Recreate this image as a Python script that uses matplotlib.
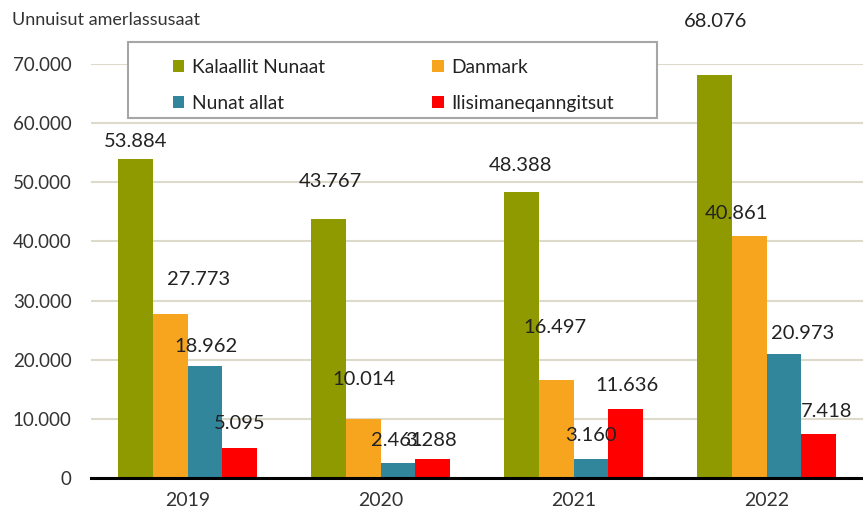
import numpy as np
import matplotlib
matplotlib.use("Agg")
import matplotlib.pyplot as plt
from matplotlib.patches import Rectangle

plt.rcParams['font.family'] = ['Lato', 'DejaVu Sans']

years = ["2019", "2020", "2021", "2022"]
series = ["Kalaallit Nunaat", "Danmark", "Nunat allat", "Ilisimaneqanngitsut"]
kalaallit = [53884, 43767, 48388, 68076]
danmark = [27773, 10014, 16497, 40861]
nunat_allat = [18962, 2461, 3160, 20973]
ilisimaneq = [5095, 3288, 11636, 7418]
colors = ["#8E9A00", "#F7A51F", "#31869B", "#FF0000"]

# label offsets in pixels (dx, dy above bar top) - mimic Excel's placement
lbl_off = [
    [(0, 18), (2, 38), (-1, 26), (1, 54)],
    [(28, 34), (1, 39), (-1, 53), (-13, 23)],
    [(1, 19), (-1, 23), (0, 24), (19, 20)],
    [(0, 24), (-2, 18), (1, 24), (8, 23)],
]

def fmt(v):
    return f"{v:,}".replace(",", ".")

fig = plt.figure(figsize=(8.63, 5.16), dpi=100)
ax = fig.add_axes([91/863, 1-478/516, 1-91/863, (478-64)/516])

x = np.arange(len(years))
w = 0.18
data = [kalaallit, danmark, nunat_allat, ilisimaneq]
handles = []
for i, (vals, name) in enumerate(zip(data, series)):
    bars = ax.bar(x + (i-1.5)*w, vals, w, color=colors[i], label=name, zorder=2)
    handles.append(bars)
    for j, b in enumerate(bars):
        dx, dy = lbl_off[i][j]
        ax.annotate(fmt(vals[j]), (b.get_x()+b.get_width()/2, b.get_height()),
                    xytext=(dx, dy), textcoords='offset pixels',
                    ha='center', va='center', fontsize=14.5, color='#222222', zorder=3)

ax.set_xlim(-0.5, 3.5)
ax.set_ylim(0, 70000)
ax.set_yticks(range(0, 70001, 10000))
ax.set_yticklabels([fmt(v) for v in range(0, 70001, 10000)], fontsize=13.5, color='#333333')
ax.set_xticks(x)
ax.set_xticklabels(years, fontsize=14, color='#333333')
ax.tick_params(length=0, axis='y', pad=14)
ax.tick_params(length=0, axis='x', pad=10)
ax.grid(axis='y', color='#DDDACB', linewidth=1.5, zorder=0)
for s in ['top', 'right', 'left']:
    ax.spines[s].set_visible(False)
ax.spines['bottom'].set_linewidth(2.2)
ax.spines['bottom'].set_color('black')
ax.spines['bottom'].set_zorder(4)

fig.text(12/863, 1-20/516, "Unnuisut amerlassusaat", fontsize=13, color='#333333', va='center')

fig.patches.append(Rectangle((128/863, 1-118/516), (657-128)/863, 76/516,
                             transform=fig.transFigure, facecolor='white',
                             edgecolor='#A6A6A6', linewidth=1.5, zorder=5))
# column-wise fill: K, Nunat allat | Danmark, Ilisimaneq
order = [0, 2, 1, 3]
leg = fig.legend([handles[k] for k in order], [series[k] for k in order],
                 loc='upper left', bbox_to_anchor=(163/863, 1-49/516), ncol=2,
                 frameon=False, fontsize=13.8, handlelength=0.6, handleheight=0.6,
                 handletextpad=0.4, columnspacing=5.6, labelspacing=1.0, borderpad=0)
leg.set_zorder(6)
for t in leg.get_texts():
    t.set_color('#222222')

fig.savefig("out.png", dpi=100)
